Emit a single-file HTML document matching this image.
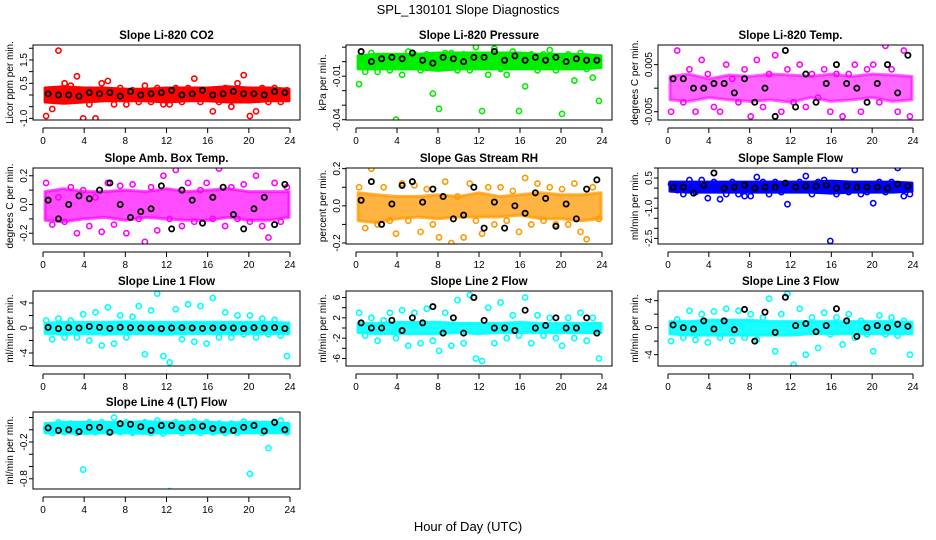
<!DOCTYPE html>
<html><head><meta charset="utf-8"><style>
html,body{margin:0;padding:0;background:#fff;}
svg{display:block;font-family:"Liberation Sans",sans-serif;}
</style></head><body>
<svg id="chart" width="936" height="540" viewBox="0 0 936 540">
<text x="468" y="14" text-anchor="middle" font-size="13">SPL_130101  Slope Diagnostics</text>
<text x="468" y="531" text-anchor="middle" font-size="13">Hour of Day (UTC)</text>
</svg>
<script>
// shared hours
const bandHours=[0.2,2,4,6,8,10,12,14,16,18,20,22,23.9];
const ptHours=[0.3,0.9,1.5,2.1,2.7,3.3,3.9,4.5,5.1,5.7,6.3,6.9,7.5,8.1,8.7,9.3,9.9,10.5,11.1,11.7,12.3,12.9,13.5,14.1,14.7,15.3,15.9,16.5,17.1,17.7,18.3,18.9,19.5,20.1,20.7,21.3,21.9,22.5,23.1,23.7];
const blkHours=[0.5,1.5,2.5,3.5,4.5,5.5,6.5,7.5,8.5,9.5,10.5,11.5,12.5,13.5,14.5,15.5,16.5,17.5,18.5,19.5,20.5,21.5,22.5,23.5];
const xTicks=[0,4,8,12,16,20,24];

// panel 1 CO2
const p1Lo=[-0.3,-0.35,-0.3,-0.25,-0.25,-0.25,-0.3,-0.25,-0.25,-0.3,-0.3,-0.25,-0.25];
const p1Hi=[0.3,0.35,0.3,0.3,0.25,0.25,0.3,0.3,0.3,0.35,0.3,0.3,0.25];
const p1Pts=[-0.9,-0.6,1.9,0.5,0.4,0.8,-1.0,-0.4,-1.0,0.5,0.6,-0.4,0.3,-0.4,0.2,-0.3,0.4,-0.3,0.3,-0.4,-0.4,0.3,-0.3,0.3,0.7,-0.3,0.2,-0.7,-0.3,0.3,-0.5,0.5,0.85,-0.9,-0.7,0.3,-0.3,0.3,-0.3,0.2];
const p1Blk=[0.05,0.0,0.0,-0.05,0.1,0.05,0.1,-0.05,0.15,0.0,0.05,0.1,0.2,0.0,0.05,0.2,0.0,0.05,0.15,0.05,0.05,0.0,0.15,0.1];
// panel 2 Pressure
const p2Lo=[-0.005,-0.005,-0.005,-0.005,-0.006,-0.005,-0.005,-0.005,-0.005,-0.005,-0.005,-0.005,-0.004];
const p2Hi=[0.004,0.005,0.005,0.005,0.006,0.006,0.006,0.006,0.006,0.005,0.005,0.005,0.004];
const p2Pts=[-0.0155,-0.007,0.006,-0.007,0.004,-0.006,-0.04,-0.009,0.007,0.005,-0.006,0.005,-0.022,-0.0325,0.006,0.006,-0.006,0.005,-0.006,0.01,-0.034,-0.009,0.009,-0.005,-0.009,0.007,-0.034,-0.017,0.005,-0.006,0.005,0.008,-0.006,-0.036,0.005,-0.013,0.006,-0.005,-0.011,-0.027];
const p2Blk=[0.007,0.0,0.002,0.003,0.002,0.006,0.001,-0.001,0.003,0.002,0.0,0.003,0.003,0.007,0.001,0.004,0.001,0.003,0.001,0.003,0.0,0.002,0.001,0.001];
// panel 3 Li-820 Temp
const p3Lo=[-0.0025,-0.0028,-0.002,-0.0025,-0.0028,-0.0025,-0.003,-0.002,-0.0028,-0.0025,-0.002,-0.0028,-0.0025];
const p3Hi=[0.0025,0.003,0.002,0.0028,0.0025,0.003,0.0028,0.0025,0.003,0.0025,0.003,0.0028,0.0025];
const p3Pts=[-0.005,0.008,-0.003,0.004,-0.005,0.006,0.003,-0.004,-0.005,0.005,0.002,-0.003,0.004,-0.006,0.006,-0.004,0.003,0.007,-0.005,0.004,-0.003,0.005,-0.004,0.003,-0.002,0.004,-0.005,0.003,-0.006,0.003,0.005,-0.005,0.004,0.005,-0.003,0.009,0.004,-0.005,0.008,-0.006];
const p3Blk=[0.002,0.002,0.0,0.0,0.001,0.001,-0.001,0.002,-0.003,0.0,-0.006,0.008,-0.004,0.003,-0.003,0.001,0.005,0.001,0.0,-0.003,0.001,0.005,-0.001,0.007];
// panel 4 Amb Box Temp
const p4Lo=[-0.11,-0.12,-0.1,-0.09,-0.11,-0.09,-0.1,-0.11,-0.11,-0.09,-0.11,-0.11,-0.09];
const p4Hi=[0.09,0.11,0.09,0.09,0.1,0.09,0.11,0.09,0.1,0.11,0.09,0.09,0.09];
const p4Pts=[0.15,-0.14,0.05,-0.12,0.12,-0.2,0.1,-0.15,0.05,-0.19,0.15,-0.14,0.13,-0.2,0.14,-0.1,-0.26,0.12,-0.18,0.2,-0.1,0.24,-0.15,0.15,-0.12,0.1,0.15,-0.1,0.25,-0.15,0.12,-0.1,0.14,-0.12,0.2,-0.15,-0.23,0.15,-0.12,0.12];
const p4Blk=[0.03,-0.1,0.0,0.06,0.04,0.1,0.15,0.0,-0.09,-0.05,-0.03,0.13,-0.17,0.1,0.03,-0.13,0.05,0.12,-0.07,-0.17,-0.03,0.05,-0.14,0.14];
// panel 5 Gas Stream RH
const p5Lo=[-0.08,-0.09,-0.07,-0.06,-0.07,-0.06,-0.06,-0.06,-0.05,-0.07,-0.07,-0.08,-0.07];
const p5Hi=[0.07,0.06,0.05,0.05,0.06,0.05,0.07,0.05,0.06,0.07,0.06,0.06,0.07];
const p5Pts=[0.1,-0.12,0.2,-0.1,0.1,-0.08,-0.15,0.12,-0.08,0.11,-0.14,0.09,-0.1,-0.17,0.13,-0.2,0.05,-0.17,0.12,-0.08,-0.15,0.1,-0.1,0.1,-0.08,0.08,-0.14,0.15,-0.1,0.12,-0.08,0.1,-0.1,0.09,-0.1,0.12,-0.14,-0.18,0.1,-0.07];
const p5Blk=[0.03,0.13,-0.1,0.01,0.11,0.13,0.02,0.09,0.05,-0.07,-0.05,0.1,-0.12,0.02,-0.12,0.0,-0.04,0.07,0.04,-0.11,0.01,-0.07,0.09,0.14];
// panel 6 Sample Flow
const p6Lo=[-0.15,-0.2,-0.2,-0.2,-0.2,-0.2,-0.2,-0.2,-0.25,-0.2,-0.2,-0.2,-0.15];
const p6Hi=[0.3,0.3,0.3,0.3,0.3,0.3,0.3,0.3,0.35,0.3,0.3,0.3,0.25];
const p6Pts=[0.2,-0.1,-0.3,0.4,-0.2,0.4,-0.5,0.3,-0.55,-0.3,0.3,-0.3,-0.4,-0.4,0.55,0.3,-0.3,0.3,-0.2,-0.8,0.2,0.3,0.6,-0.3,0.3,0.4,-2.63,-0.3,0.2,-0.2,0.9,-0.3,-0.2,-0.75,0.3,-0.2,0.3,1.0,-0.4,-0.3];
const p6Blk=[0.05,0.05,-0.25,0.15,0.75,0.0,0.05,0.15,0.0,0.05,0.05,0.25,0.05,0.1,0.1,0.15,0.0,0.1,0.05,0.05,0.05,0.0,0.2,0.1];
// panel 7 Line 1 Flow
const p7Lo=[-0.9,-1.0,-0.9,-1.0,-0.9,-0.9,-1.0,-0.9,-0.9,-0.9,-0.9,-0.9,-0.9];
const p7Hi=[0.8,0.9,0.9,0.9,1.0,0.9,0.9,0.9,0.9,0.9,0.9,0.9,0.8];
const p7Pts=[1.2,-1.8,1.5,-1.5,1.2,-1.5,2.2,-2.0,2.5,-2.8,3.3,-2.5,2.0,-1.5,1.8,3.5,-4.2,2.8,5.5,-4.5,-5.5,3.0,-1.8,3.8,-2.2,3.5,-2.5,4.8,-1.5,2.5,-1.5,2.0,-1.0,2.0,-1.5,1.5,-1.0,1.3,-1.2,-4.5];
const p7Blk=[0.1,-0.1,0.05,0.0,0.25,0.1,-0.05,0.1,0.05,0.0,0.0,-0.1,0.0,0.05,0.0,-0.05,0.0,0.05,0.0,-0.1,0.05,0.0,0.05,-0.1];
// panel 8 Line 2 Flow
const p8Lo=[-0.9,-1.1,-1.1,-1.1,-1.1,-0.9,-1.1,-0.9,-0.9,-0.9,-0.9,-0.9,-0.9];
const p8Hi=[0.9,0.9,1.1,1.1,1.1,0.9,0.9,0.9,1.1,0.9,0.9,0.9,0.9];
const p8Pts=[3.0,-1.5,2.0,-2.5,1.5,3.0,-2.0,3.5,-3.5,3.0,-3.0,3.8,-2.5,-4.5,3.0,-3.5,5.5,-3.0,6.5,-6.0,-6.5,4.0,-3.0,5.0,-2.0,2.5,-1.5,6.0,-3.0,2.5,-1.5,2.0,-2.0,-3.5,2.0,-2.0,3.0,-2.5,2.0,-6.0];
const p8Blk=[1.0,0.0,0.0,1.5,-0.5,2.0,1.0,4.2,-1.0,2.0,-1.0,6.0,1.5,0.0,0.0,-0.5,3.5,0.0,0.5,2.0,0.0,0.0,2.0,-1.0];
// panel 9 Line 3 Flow
const p9Lo=[-0.9,-1.1,-1.1,-1.1,-1.1,-1.1,-1.1,-0.9,-0.9,-0.9,-0.9,-0.9,-0.9];
const p9Hi=[0.9,0.9,1.1,1.1,1.1,0.9,0.9,0.9,0.9,0.9,0.9,0.9,0.8];
const p9Pts=[-2.0,1.2,-1.5,2.5,-1.8,2.0,-2.2,2.4,-1.5,2.8,-2.0,2.5,-1.5,2.0,-1.8,1.5,4.3,-3.5,2.0,5.0,-5.5,2.8,-4.0,1.5,-3.0,2.2,-1.0,1.5,-2.5,2.0,-1.5,1.0,-1.0,-3.5,1.8,-1.0,1.5,-1.2,1.0,-4.0];
const p9Blk=[0.4,0.0,-0.2,1.0,-0.2,1.0,-0.3,2.7,-2.0,2.3,-0.7,4.5,0.3,0.6,-0.6,0.3,2.8,1.0,-1.3,0.0,0.3,0.0,0.5,0.2];
// panel 10 Line 4 (LT) Flow
const p10Lo=[-0.05,-0.05,-0.06,-0.05,-0.05,-0.06,-0.05,-0.05,-0.05,-0.05,-0.05,-0.05,-0.05];
const p10Hi=[0.1,0.12,0.12,0.12,0.12,0.13,0.12,0.12,0.12,0.11,0.12,0.12,0.1];
const p10Pts=[0.02,-0.05,0.12,-0.04,0.1,-0.05,-0.65,0.12,-0.04,0.12,-0.04,0.2,-0.04,0.12,-0.05,0.1,0.12,-0.05,0.15,-0.06,-1.0,0.12,-0.05,0.1,0.13,-0.05,0.12,-0.04,0.1,-0.05,0.1,-0.05,0.13,-0.72,0.1,-0.05,-0.3,0.13,0.15,-0.04];
const p10Blk=[0.03,-0.01,0.0,-0.03,0.04,0.04,-0.04,0.1,0.09,0.05,-0.01,0.07,0.07,0.03,0.04,0.06,0.02,0.0,-0.01,0.04,0.07,-0.02,0.12,0.0];

const cols=[[33,300],[346,612],[658,923]];
const rows=[[45,120],[168,244],[291,366],[412,489]];
const panels=[
 {n:'co2',title:'Slope Li-820 CO2',yl:'Licor ppm per min.',c:0,r:0,col:'#ff0000',op:1,lo:-1.07,hi:2.14,ticks:[-1,-0.5,0,0.5,1,1.5,2],labs:{'-1':'-1.0','0.5':'0.5','1.5':'1.5'},bl:p1Lo,bh:p1Hi,pts:p1Pts,blk:p1Blk},
 {n:'pressure',title:'Slope Li-820 Pressure',yl:'kPa per min.',c:1,r:0,col:'#00ee00',op:1,lo:-0.0402,hi:0.0115,ticks:[-0.04,-0.03,-0.02,-0.01,0,0.01],labs:{'-0.01':'-0.01','-0.04':'-0.04'},bl:p2Lo,bh:p2Hi,pts:p2Pts,blk:p2Blk},
 {n:'li820-temp',title:'Slope Li-820 Temp.',yl:'degrees C per min.',c:2,r:0,col:'#ff00ff',op:0.6,lo:-0.00676,hi:0.00917,ticks:[-0.005,0,0.005],labs:{'-0.005':'-0.005','0.005':'0.005'},bl:p3Lo,bh:p3Hi,pts:p3Pts,blk:p3Blk},
 {n:'amb-box-temp',title:'Slope Amb. Box Temp.',yl:'degrees C per min.',c:0,r:1,col:'#ff00ff',op:0.7,lo:-0.275,hi:0.254,ticks:[-0.2,-0.1,0,0.1,0.2],labs:{'-0.2':'-0.2','0':'0.0','0.2':'0.2'},bl:p4Lo,bh:p4Hi,pts:p4Pts,blk:p4Blk},
 {n:'gas-stream-rh',title:'Slope Gas Stream RH',yl:'percent per min.',c:1,r:1,col:'#ff9900',op:0.75,lo:-0.2054,hi:0.2036,ticks:[-0.2,-0.1,0,0.1,0.2],labs:{'-0.2':'-0.2','0':'0.0','0.2':'0.2'},bl:p5Lo,bh:p5Hi,pts:p5Pts,blk:p5Blk},
 {n:'sample-flow',title:'Slope Sample Flow',yl:'ml/min per min.',c:2,r:1,col:'#0000ff',op:1,lo:-2.78,hi:1.0,ticks:[-2.5,-2,-1.5,-1,-0.5,0,0.5,1],labs:{'-2.5':'-2.5','-1':'-1.0','0.5':'0.5'},bl:p6Lo,bh:p6Hi,pts:p6Pts,blk:p6Blk},
 {n:'line1-flow',title:'Slope Line 1 Flow',yl:'ml/min per min.',c:0,r:2,col:'#00ffff',op:0.9,lo:-6.08,hi:5.92,ticks:[-6,-4,-2,0,2,4],labs:{'-4':'-4','0':'0','4':'4'},bl:p7Lo,bh:p7Hi,pts:p7Pts,blk:p7Blk},
 {n:'line2-flow',title:'Slope Line 2 Flow',yl:'ml/min per min.',c:1,r:2,col:'#00ffff',op:0.9,lo:-7.48,hi:7.28,ticks:[-6,-4,-2,0,2,4,6],labs:{'-6':'-6','-2':'-2','2':'2','6':'6'},bl:p8Lo,bh:p8Hi,pts:p8Pts,blk:p8Blk},
 {n:'line3-flow',title:'Slope Line 3 Flow',yl:'ml/min per min.',c:2,r:2,col:'#00ffff',op:0.9,lo:-5.68,hi:5.43,ticks:[-4,-2,0,2,4],labs:{'-4':'-4','0':'0','4':'4'},bl:p9Lo,bh:p9Hi,pts:p9Pts,blk:p9Blk},
 {n:'line4-flow',title:'Slope Line 4 (LT) Flow',yl:'ml/min per min.',c:0,r:3,col:'#00ffff',op:1,lo:-0.967,hi:0.29,ticks:[-0.8,-0.6,-0.4,-0.2,0,0.2],labs:{'-0.8':'-0.8','-0.2':'-0.2'},bl:p10Lo,bh:p10Hi,pts:p10Pts,blk:p10Blk}
];
const NS='http://www.w3.org/2000/svg';
const svg=document.getElementById('chart');
function mk(tag,attrs,parent){const e=document.createElementNS(NS,tag);for(const k in attrs)e.setAttribute(k,attrs[k]);parent.appendChild(e);return e;}
panels.forEach(p=>{
 const L=cols[p.c][0],R=cols[p.c][1],T=rows[p.r][0],B=rows[p.r][1];
 const xs=h=>L+10+h*(R-L-20)/24;
 const ys=v=>B-(v-p.lo)/(p.hi-p.lo)*(B-T);
 const g=mk('g',{},svg);
 
 
 const cp=mk('clipPath',{id:'cp-'+p.n},g);
 mk('rect',{x:L,y:T,width:R-L,height:B-T},cp);
 const t=mk('text',{x:(L+R)/2,y:T-6,'text-anchor':'middle','font-size':'11.5','font-weight':'bold'},g);
 t.textContent=p.title;
 
 
 const yt=mk('text',{transform:`translate(${L-20},${(T+B)/2}) rotate(-90)`,'text-anchor':'middle','font-size':'10'},g);
 yt.textContent=p.yl;
 
 
 const plot=mk('g',{'clip-path':`url(#cp-${p.n})`},g);
 
 
 let d='';
 bandHours.forEach((h,i)=>{d+=(i?'L':'M')+xs(h).toFixed(1)+','+ys(p.bh[i]).toFixed(1);});
 for(let i=bandHours.length-1;i>=0;i--)d+='L'+xs(bandHours[i]).toFixed(1)+','+ys(p.bl[i]).toFixed(1);
 const band=mk('path',{d:d+'Z',fill:p.col,'fill-opacity':p.op,stroke:p.col,'stroke-opacity':p.op,'stroke-width':'3','stroke-linejoin':'round'},plot);
 
 
 p.pts.forEach((v,i)=>{
  const c=mk('circle',{cx:xs(ptHours[i]),cy:ys(v),r:2.6,fill:'none',stroke:p.col,'stroke-width':'1.6'},plot);
  
  
 });
 p.blk.forEach((v,i)=>{
  const c=mk('circle',{cx:xs(blkHours[i]),cy:ys(v),r:2.6,fill:'none',stroke:'#000','stroke-width':'1.8'},plot);
  
  
 });
 const box=mk('rect',{x:L,y:T,width:R-L,height:B-T,fill:'none',stroke:'#000','stroke-width':'1'},g);
 
 
 mk('line',{x1:xs(0),x2:xs(24),y1:B+8,y2:B+8,stroke:'#000'},g);
 xTicks.forEach(h=>{
  mk('line',{x1:xs(h),x2:xs(h),y1:B+8,y2:B+13,stroke:'#000'},g);
  const tl=mk('text',{x:xs(h),y:B+24,'text-anchor':'middle','font-size':'10'},g);
  tl.textContent=h;
  
  
 });
 p.ticks.forEach(v=>{
  const y=ys(v);
  mk('line',{x1:L-4,x2:L,y1:y,y2:y,stroke:'#000'},g);
  const key=String(v);
  if(p.labs[key]!==undefined){
   const yl=mk('text',{transform:`translate(${L-6},${y}) rotate(-90)`,'text-anchor':'middle','font-size':'10'},g);
   yl.textContent=p.labs[key];
   
   
  }
 });
});
</script>
</body></html>
